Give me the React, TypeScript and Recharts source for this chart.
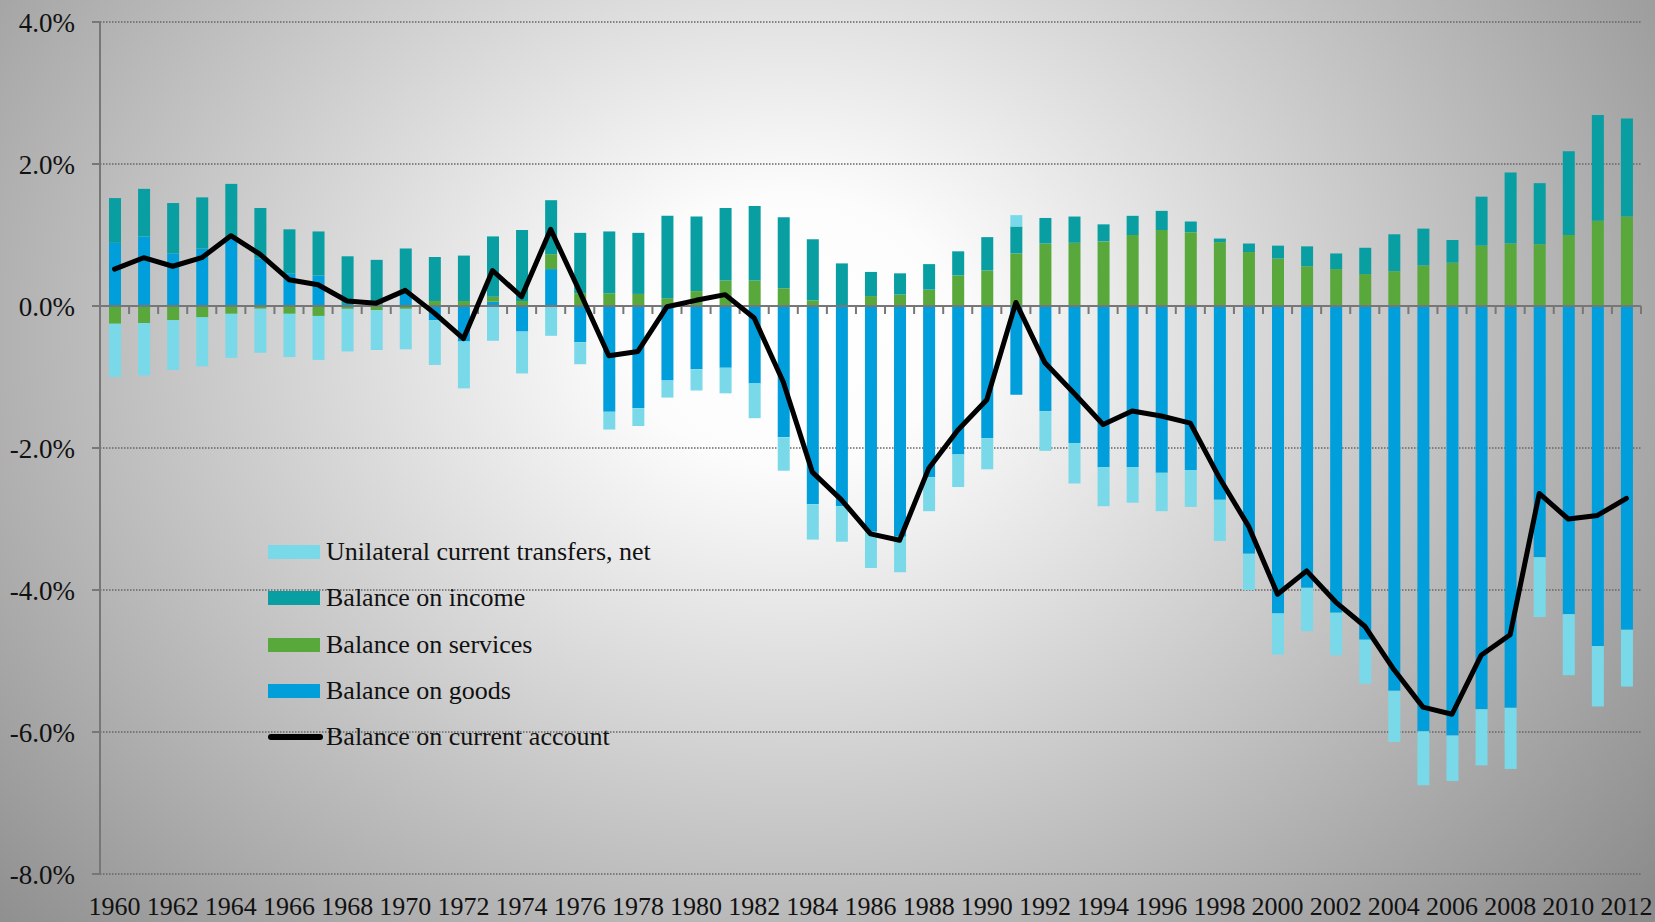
import React from "react";
import {
  ComposedChart,
  Bar,
  Line,
  XAxis,
  YAxis,
  CartesianGrid,
  ReferenceLine,
  Legend,
} from "recharts";

// years 1960..2012
const years = [
  "1960", "1961", "1962", "1963", "1964", "1965", "1966", "1967", "1968", "1969",
  "1970", "1971", "1972", "1973", "1974", "1975", "1976", "1977", "1978", "1979",
  "1980", "1981", "1982", "1983", "1984", "1985", "1986", "1987", "1988", "1989",
  "1990", "1991", "1992", "1993", "1994", "1995", "1996", "1997", "1998", "1999",
  "2000", "2001", "2002", "2003", "2004", "2005", "2006", "2007", "2008", "2009",
  "2010", "2011", "2012",
];

// % of GDP
const goods = [
  0.89, 0.98, 0.74, 0.81, 0.97, 0.67, 0.46, 0.43, 0.03, 0.02,
  0.2, -0.2, -0.5, 0.06, -0.36, 0.52, -0.51, -1.49, -1.44, -1.05,
  -0.89, -0.87, -1.09, -1.85, -2.79, -2.82, -3.18, -3.25, -2.41, -2.09,
  -1.86, -1.25, -1.48, -1.93, -2.27, -2.27, -2.35, -2.31, -2.73, -3.49,
  -4.33, -3.97, -4.32, -4.7, -5.42, -5.99, -6.05, -5.68, -5.66, -3.54,
  -4.34, -4.79, -4.56,
];
const services = [
  -0.25, -0.24, -0.2, -0.16, -0.11, -0.04, -0.11, -0.14, -0.04, -0.06,
  -0.04, 0.07, 0.07, 0.07, 0.07, 0.21, 0.18, 0.18, 0.17, 0.11,
  0.21, 0.36, 0.36, 0.25, 0.08, 0.01, 0.14, 0.16, 0.23, 0.43,
  0.5, 0.74, 0.88, 0.89, 0.91, 1.0, 1.07, 1.04, 0.9, 0.76,
  0.67, 0.56, 0.52, 0.45, 0.49, 0.57, 0.61, 0.85, 0.88, 0.87,
  1.0, 1.2, 1.26,
];
const income = [
  0.63, 0.67, 0.71, 0.72, 0.75, 0.71, 0.62, 0.62, 0.67, 0.63,
  0.61, 0.62, 0.64, 0.85, 1.0, 0.76, 0.85, 0.87, 0.86, 1.16,
  1.05, 1.02, 1.05, 1.0, 0.86, 0.59, 0.34, 0.3, 0.36, 0.34,
  0.47, 0.38, 0.36, 0.37, 0.24, 0.27, 0.27, 0.15, 0.05, 0.12,
  0.18, 0.28, 0.22, 0.37, 0.52, 0.52, 0.32, 0.69, 1.0, 0.86,
  1.18, 1.49, 1.38,
];
const transfers = [
  -0.75, -0.74, -0.7, -0.69, -0.62, -0.62, -0.61, -0.62, -0.6, -0.56,
  -0.57, -0.63, -0.66, -0.49, -0.59, -0.42, -0.31, -0.25, -0.25, -0.24,
  -0.3, -0.36, -0.49, -0.47, -0.5, -0.5, -0.51, -0.5, -0.48, -0.46,
  -0.44, 0.16, -0.56, -0.57, -0.55, -0.5, -0.54, -0.52, -0.58, -0.51,
  -0.58, -0.61, -0.6, -0.62, -0.72, -0.76, -0.64, -0.79, -0.86, -0.84,
  -0.86, -0.85, -0.8,
];
const currentAccount = [
  0.52, 0.68, 0.56, 0.68, 0.99, 0.73, 0.37, 0.3, 0.07, 0.04,
  0.22, -0.1, -0.46, 0.5, 0.13, 1.08, 0.2, -0.7, -0.64, -0.01,
  0.08, 0.16, -0.17, -1.07, -2.34, -2.73, -3.21, -3.3, -2.29, -1.75,
  -1.32, 0.05, -0.8, -1.23, -1.67, -1.48, -1.55, -1.65, -2.42, -3.1,
  -4.06, -3.73, -4.17, -4.51, -5.12, -5.65, -5.75, -4.92, -4.63, -2.64,
  -3.0, -2.95, -2.71,
];

const yTicks = [-8, -6, -4, -2, 0, 2, 4];

const COLORS = {
  goods: "#009edb",
  services: "#58a83c",
  income: "#089ea2",
  transfers: "#7ad9e9",
  ca: "#000000",
};

const legendItems = [
  { label: "Unilateral current transfers, net", color: COLORS.transfers, line: false },
  { label: "Balance on income", color: COLORS.income, line: false },
  { label: "Balance on services", color: COLORS.services, line: false },
  { label: "Balance on goods", color: COLORS.goods, line: false },
  { label: "Balance on current account", color: COLORS.ca, line: true },
];

const data = years.map((year, i) => ({
  year,
  goods: goods[i],
  services: services[i],
  income: income[i],
  transfers: transfers[i],
  ca: currentAccount[i],
}));

const FONT = '"Liberation Serif", "DejaVu Serif", serif';

// zero line with little tick marks at the category boundaries
const ZeroAxis = (p: any) => {
  const { x1, x2, y1 } = p;
  const step = (x2 - x1) / years.length;
  return (
    <g>
      <line x1={x1} y1={y1} x2={x2} y2={y1} stroke="#777" strokeWidth={2} />
      {years.map((_, i) => (
        <line
          key={i}
          x1={x1 + step * (i + 1)}
          x2={x1 + step * (i + 1)}
          y1={y1}
          y2={y1 + 8}
          stroke="#777"
          strokeWidth={2}
        />
      ))}
    </g>
  );
};

const renderLegend = () => (
  <div style={{ fontFamily: FONT, fontSize: 26, color: "#111" }}>
    {legendItems.map((item) => (
      <div key={item.label} style={{ display: "flex", alignItems: "center", height: 46.3 }}>
        <svg width={58} height={20} style={{ flex: "none" }}>
          {item.line ? (
            <line x1={3} y1={10} x2={52} y2={10} stroke={item.color} strokeWidth={6} strokeLinecap="round" />
          ) : (
            <rect x={0} y={3} width={52} height={14} fill={item.color} />
          )}
        </svg>
        <span style={{ whiteSpace: "nowrap" }}>{item.label}</span>
      </div>
    ))}
  </div>
);

export default function App() {
  return (
    <div
      style={{
        position: "absolute",
        left: 0,
        top: 0,
        width: 1655,
        height: 922,
        background:
          "radial-gradient(ellipse 1100px 900px at 790px 330px, #ffffff 0%, #fcfcfc 15%, #8c8c8c 100%)",
      }}
    >
      <ComposedChart
        width={1655}
        height={922}
        data={data}
        stackOffset="sign"
        margin={{ top: 22, right: 14, bottom: 8, left: 0 }}
        barCategoryGap={0}
      >
        <CartesianGrid vertical={false} stroke="#666" strokeDasharray="1.5 1.5" strokeWidth={1.4} />
        <XAxis
          dataKey="year"
          interval={1}
          axisLine={false}
          tickLine={false}
          tickSize={0}
          tickMargin={23}
          height={40}
          tick={{ fontFamily: FONT, fontSize: 26, fill: "#111" }}
        />
        <YAxis
          domain={[-8, 4]}
          ticks={yTicks}
          width={100}
          tickFormatter={(v: number) => `${v.toFixed(1)}%`}
          axisLine={{ stroke: "#777", strokeWidth: 2 }}
          tickLine={{ stroke: "#777", strokeWidth: 2 }}
          tickSize={8}
          tickMargin={17}
          tick={{ fontFamily: FONT, fontSize: 27, fill: "#111" }}
        />
        <Bar dataKey="goods" stackId="a" fill={COLORS.goods} barSize={12} isAnimationActive={false} />
        <Bar dataKey="services" stackId="a" fill={COLORS.services} barSize={12} isAnimationActive={false} />
        <Bar dataKey="income" stackId="a" fill={COLORS.income} barSize={12} isAnimationActive={false} />
        <Bar dataKey="transfers" stackId="a" fill={COLORS.transfers} barSize={12} isAnimationActive={false} />
        <ReferenceLine y={0} shape={ZeroAxis} />
        <Line
          dataKey="ca"
          type="linear"
          stroke={COLORS.ca}
          strokeWidth={5}
          strokeLinejoin="round"
          strokeLinecap="round"
          dot={false}
          activeDot={false}
          isAnimationActive={false}
        />
        <Legend
          layout="vertical"
          align="center"
          verticalAlign="middle"
          content={renderLegend}
          wrapperStyle={{ left: 268, top: 529, width: "auto" }}
        />
      </ComposedChart>
    </div>
  );
}
